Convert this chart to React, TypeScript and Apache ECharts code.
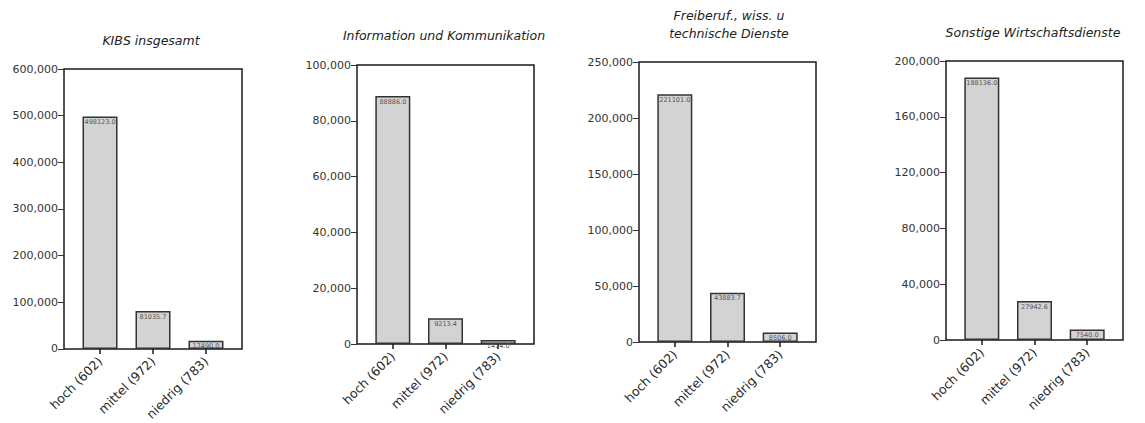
import React, { useEffect, useRef } from "react";
import * as echarts from "echarts";

const categories = ["hoch (602)", "mittel (972)", "niedrig (783)"];
const titles = [
  "KIBS insgesamt",
  "Information und Kommunikation",
  "Freiberuf., wiss. u\ntechnische Dienste",
  "Sonstige Wirtschaftsdienste",
];
const kibsValues = [498123.0, 81035.7, 17490.0];
const iukValues = [88886.0, 9213.4, 1414.0];
const freiValues = [221101.0, 43883.7, 8506.0];
const sonstValues = [188136.0, 27942.6, 7540.0];
const yMax = [600000, 100000, 250000, 200000];
const yInterval = [100000, 20000, 50000, 40000];

const panelValues = [kibsValues, iukValues, freiValues, sonstValues];
const grids = [
  { left: 64, top: 69, width: 178, height: 280 },
  { left: 357, top: 65, width: 177, height: 279 },
  { left: 639, top: 62, width: 177, height: 280 },
  { left: 946, top: 61, width: 177, height: 279 },
];
const titlePos = [
  { x: 151, y: 40 },
  { x: 444, y: 35 },
  { x: 729, y: 24 },
  { x: 1033, y: 32 },
];

const FONT = "DejaVu Sans";

export default function App() {
  const ref = useRef<HTMLDivElement>(null);
  useEffect(() => {
    document.body.style.margin = "0";
    if (!ref.current) return;
    const chart = echarts.init(ref.current, null, { renderer: "svg" });
    const fmt = (v: number) =>
      Math.round(v).toString().replace(/\B(?=(\d{3})+(?!\d))/g, ",");
    const option: any = {
      animation: false,
      backgroundColor: "#ffffff",
      textStyle: { fontFamily: FONT },
      grid: grids.map((g) => ({
        ...g,
        show: true,
        borderColor: "#1a1a1a",
        borderWidth: 1.5,
        backgroundColor: "transparent",
        containLabel: false,
      })),
      xAxis: grids.map((_, i) => ({
        type: "value",
        gridIndex: i,
        position: "bottom",
        min: -0.68,
        max: 2.68,
        splitLine: { show: false },
        axisLine: { show: false, onZero: false },
        axisTick: {
          show: true,
          inside: false,
          customValues: [0, 1, 2],
          length: 5,
          lineStyle: { color: "#1a1a1a", width: 1.5 },
        },
        axisLabel: {
          customValues: [0, 1, 2],
          formatter: (v: number) => categories[Math.round(v)] ?? "",
          rotate: 45,
          fontSize: 12.5,
          color: "#2a2a2a",
          margin: 10,
          fontFamily: FONT,
        },
      })),
      yAxis: grids.map((_, i) => ({
        type: "value",
        gridIndex: i,
        position: "left",
        min: 0,
        max: yMax[i],
        interval: yInterval[i],
        splitLine: { show: false },
        axisLine: { show: false, onZero: false },
        axisTick: {
          show: true,
          inside: false,
          length: 6,
          lineStyle: { color: "#333", width: 1 },
        },
        axisLabel: {
          formatter: (v: number) => fmt(v),
          fontSize: 11,
          color: "#333",
          margin: 6,
          padding: [0, 0, 6, 0],
          fontFamily: FONT,
        },
      })),
      series: panelValues.map((vals, i) => ({
        type: "bar",
        xAxisIndex: i,
        yAxisIndex: i,
        barWidth: 35,
        data: vals.map((v, k) => [k, v]),
        itemStyle: {
          color: "#d3d3d3",
          borderColor: "#333",
          borderWidth: 1.5,
        },
        label: {
          show: true,
          position: "insideTop",
          distance: 2,
          fontSize: 6.5,
          color: "#555",
          fontFamily: FONT,
          formatter: (p: any) => Number(p.value[1]).toFixed(1),
        },
      })),
      graphic: titles.map((t, i) => ({
        type: "text",
        x: titlePos[i].x,
        y: titlePos[i].y,
        style: {
          text: t,
          textAlign: "center",
          textVerticalAlign: "middle",
          font: `italic 12.5px "${FONT}"`,
          fill: "#222",
          lineHeight: 18,
        },
      })),
    };
    chart.setOption(option);
    return () => chart.dispose();
  }, []);
  return <div ref={ref} style={{ width: 1145, height: 423 }} />;
}
